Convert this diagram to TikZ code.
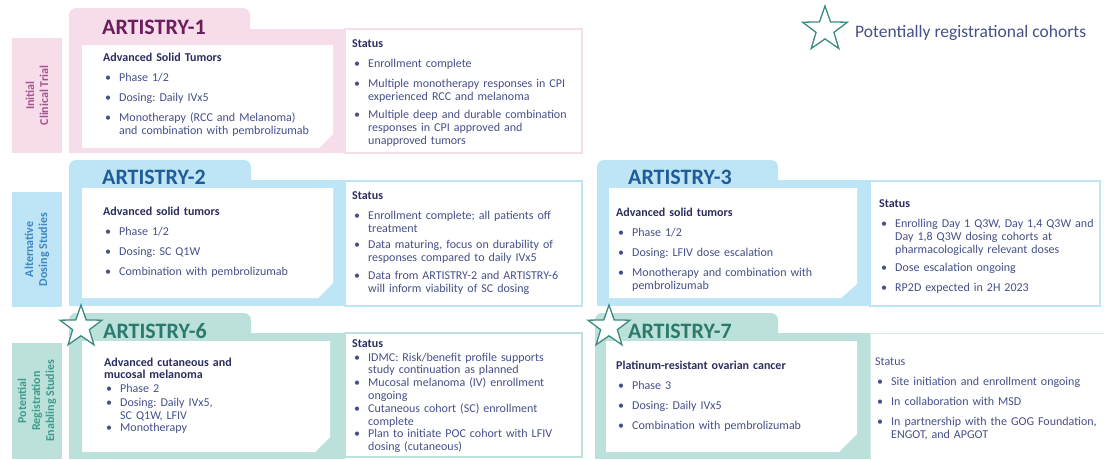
\documentclass[tikz,border=0pt]{standalone}
\usepackage{fontspec}
\setmainfont{Carlito}
\usetikzlibrary{shapes.geometric}
\frenchspacing

\definecolor{pinkfr}{HTML}{F6DDE9}
\definecolor{pinktx}{HTML}{A4548E}
\definecolor{purptl}{HTML}{6B1D5E}
\definecolor{bluefr}{HTML}{BEE5F6}
\definecolor{bluetx}{HTML}{3C86C4}
\definecolor{bluetl}{HTML}{1F5C98}
\definecolor{tealfr}{HTML}{BCE0DA}
\definecolor{tealtx}{HTML}{3F9B8D}
\definecolor{tealtl}{HTML}{2C796D}
\definecolor{startl}{HTML}{3B8B80}
\definecolor{bodytx}{HTML}{465089}
\definecolor{headtx}{HTML}{2B2E5E}

% bullet line and bold heading inside the text blocks
\newcommand{\itm}[1]{\par\noindent\hspace*{2pt}\makebox[14pt][l]{\textbullet}\parbox[t]{240pt}{\raggedright #1}}
\newcommand{\hd}[1]{\noindent\textcolor{headtx}{\bfseries #1}}

\begin{document}
\begin{tikzpicture}[x=1pt,y=-1pt,
	title/.style={anchor=base west,inner sep=0pt,font=\fontsize{22}{24}\selectfont\bfseries},
	body/.style={anchor=base west,inner sep=0pt,text width=260pt,align=left,text=bodytx,
		font=\fontsize{12}{13}\selectfont,execute at begin node={\setlength{\parskip}{7pt}}},
	tight/.style={font=\fontsize{12}{12.5}\selectfont,execute at begin node={\setlength{\parskip}{1.5pt}}},
	sidelab/.style={rotate=90,align=center,inner sep=0pt,font=\fontsize{12}{14}\selectfont\bfseries},
	regstar/.style={star,star points=5,star point ratio=2.5,minimum size=44pt,inner sep=0pt,
		draw=startl,fill=white,line width=1.3pt}]
	\useasboundingbox (0,0) rectangle (1104,459);

	% side labels
	\fill[pinkfr] (12,38) rectangle (62,153);
	\node[sidelab,text=pinktx] (lab1) at (37,95.5) {Initial\\Clinical Trial};
	\fill[bluefr] (12,192) rectangle (62,307);
	\node[sidelab,text=bluetx] (lab2) at (37,249.5) {Alternative\\Dosing Studies};
	\fill[tealfr] (12,343) rectangle (62,459);
	\node[sidelab,text=tealtx] (lab3) at (37,401) {Potential\\Registration\\Enabling Studies};

	% ARTISTRY-1
	\fill[pinkfr,rounded corners=7pt] (69,8) rectangle (250,45);
	\fill[pinkfr] (69,29) rectangle (345,153);
	\draw[pinkfr,fill=white,line width=1.2pt] (345,29) rectangle (582,153);
	\fill[white] (82,45) -- (333,45) -- (333,134) -- (319,148) -- (82,148) -- cycle;
	\node[title,text=purptl] (a1) at (102,34) {ARTISTRY-1};
	\node[body] (a1body) at (103,61) {\hd{Advanced Solid Tumors}
		\itm{Phase 1/2}
		\itm{Dosing: Daily IVx5}
		\itm{Monotherapy (RCC and Melanoma)\\ and combination with pembrolizumab}};
	\node[body] (a1stat) at (352,47) {\hd{Status}
		\itm{Enrollment complete}
		\itm{Multiple monotherapy responses in CPI\\ experienced RCC and melanoma}
		\itm{Multiple deep and durable combination\\ responses in CPI approved and\\ unapproved tumors}};

	% ARTISTRY-2
	\fill[bluefr,rounded corners=7pt] (69,160) rectangle (251,195);
	\fill[bluefr] (69,180) rectangle (345,306);
	\draw[bluefr,fill=white,line width=1.2pt] (345,181) rectangle (582,306);
	\fill[white] (82,188) -- (333,188) -- (333,283) -- (318,298) -- (82,298) -- cycle;
	\node[title,text=bluetl] (a2) at (102,184) {ARTISTRY-2};
	\node[body] (a2body) at (103,215) {\hd{Advanced solid tumors}
		\itm{Phase 1/2}
		\itm{Dosing: SC Q1W}
		\itm{Combination with pembrolizumab}};
	\node[body] (a2stat) at (352,199) {\hd{Status}
		\itm{Enrollment complete; all patients off\\ treatment}
		\itm{Data maturing, focus on durability of\\ responses compared to daily IVx5}
		\itm{Data from ARTISTRY-2 and ARTISTRY-6\\ will inform viability of SC dosing}};

	% ARTISTRY-3
	\fill[bluefr,rounded corners=7pt] (597,160) rectangle (778,195);
	\fill[bluefr] (597,180) rectangle (870,306);
	\draw[bluefr,fill=white,line width=1.2pt] (870,181) rectangle (1100,306);
	\fill[white] (609,188) -- (857,188) -- (857,284) -- (841,298) -- (609,298) -- cycle;
	\node[title,text=bluetl] (a3) at (628,184) {ARTISTRY-3};
	\node[body] (a3body) at (616,216) {\hd{Advanced solid tumors}
		\itm{Phase 1/2}
		\itm{Dosing: LFIV dose escalation}
		\itm{Monotherapy and combination with\\ pembrolizumab}};
	\node[body] (a3stat) at (879,207) {\hd{Status}
		\itm{Enrolling Day 1 Q3W, Day 1,4 Q3W and\\ Day 1,8 Q3W dosing cohorts at\\ pharmacologically relevant doses}
		\itm{Dose escalation ongoing}
		\itm{RP2D expected in 2H 2023}};

	% ARTISTRY-6
	\fill[tealfr,rounded corners=7pt] (69,313) rectangle (251,350);
	\fill[tealfr] (69,333) rectangle (345,459);
	\draw[tealfr,fill=white,line width=1.2pt] (345,333) rectangle (582,457);
	\fill[white] (82,341) -- (330,341) -- (330,437) -- (315,452) -- (82,452) -- cycle;
	\node[title,text=tealtl] (a6) at (103,338) {ARTISTRY-6};
	\node[body,tight] (a6body) at (104,366) {\hd{Advanced cutaneous and\\ mucosal melanoma}
		\itm{Phase 2}
		\itm{Dosing: Daily IVx5,\\ SC Q1W, LFIV}
		\itm{Monotherapy}};
	\node[body,tight] (a6stat) at (352,347) {\hd{Status}
		\itm{IDMC: Risk/benefit profile supports\\ study continuation as planned}
		\itm{Mucosal melanoma (IV) enrollment\\ ongoing}
		\itm{Cutaneous cohort (SC) enrollment\\ complete}
		\itm{Plan to initiate POC cohort with LFIV\\ dosing (cutaneous)}};
	\node[regstar] (star6) at (81,327) {};

	% ARTISTRY-7
	\fill[tealfr,rounded corners=7pt] (595,313) rectangle (778,350);
	\fill[tealfr] (595,333) rectangle (870,459);
	\draw[tealfr!60,fill=white,line width=1pt] (870,333) rectangle (1106,461);
	\fill[white] (606,341) -- (857,341) -- (857,434) -- (839,452) -- (606,452) -- cycle;
	\node[title,text=tealtl] (a7) at (628,338) {ARTISTRY-7};
	\node[body] (a7body) at (616,369) {\hd{Platinum-resistant ovarian cancer}
		\itm{Phase 3}
		\itm{Dosing: Daily IVx5}
		\itm{Combination with pembrolizumab}};
	\node[body] (a7stat) at (875,365) {Status
		\itm{Site initiation and enrollment ongoing}
		\itm{In collaboration with MSD}
		\itm{In partnership with the GOG Foundation,\\ ENGOT, and APGOT}};
	\node[regstar] (star7) at (609,327) {};

	% legend
	\node[regstar,minimum size=47pt] (legstar) at (825,29.5) {};
	\node[anchor=base west,inner sep=0pt,text=bodytx,font=\fontsize{17.5}{20}\selectfont]
		(legtext) at (855,37) {Potentially registrational cohorts};
\end{tikzpicture}
\end{document}
